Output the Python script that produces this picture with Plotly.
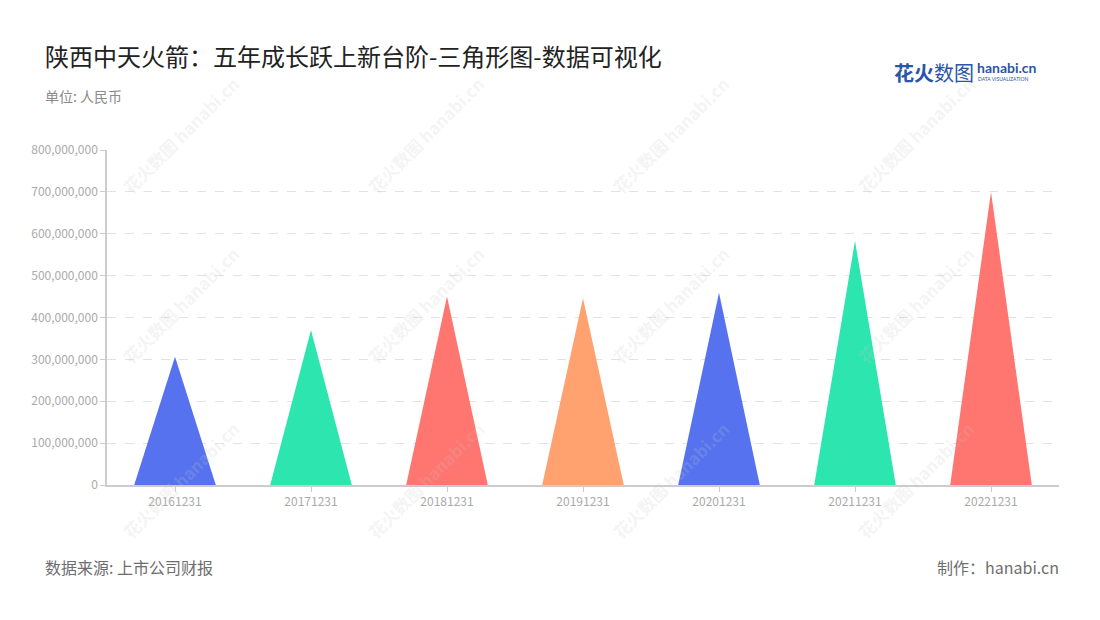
import plotly.graph_objects as go

categories = ["20161231", "20171231", "20181231", "20191231", "20201231", "20211231", "20221231"]
values = [306e6, 370e6, 450e6, 446e6, 459e6, 583e6, 700e6]
colors = ["#5672EE", "#2DE6AF", "#FF7570", "#FFA270", "#5672EE", "#2DE6AF", "#FF7570"]
y_ticks = [0, 100e6, 200e6, 300e6, 400e6, 500e6, 600e6, 700e6, 800e6]
y_tick_labels = ["0", "100,000,000", "200,000,000", "300,000,000", "400,000,000",
                 "500,000,000", "600,000,000", "700,000,000", "800,000,000"]

FONT = "Noto Sans CJK SC"
HALF = 0.3
OFF = 8  # page body margin offset

fig = go.Figure()
for i, (cat, v, c) in enumerate(zip(categories, values, colors)):
    fig.add_trace(go.Scatter(
        x=[i - HALF, i, i + HALF, i - HALF],
        y=[0, v, 0, 0],
        mode="lines", fill="toself", fillcolor=c,
        line=dict(width=0, color=c),
        hoverinfo="text", text=f"{cat}: {v:,.0f}",
        showlegend=False,
    ))

# plot area in screen pixels: left 107, right 1059, top 150, bottom 485
L, R, T, B = 107, 1059, 150, 485
def px(x):
    return (x - L) / (R - L)
def py(y):
    return (B - y) / (B - T)

annotations = []
# watermarks
for cx in [180, 425, 670, 915]:
    for cy in [135, 305, 480]:
        annotations.append(dict(
            x=px(cx), y=py(cy), xref="paper", yref="paper",
            text="<b>花火数图 hanabi.cn</b>", showarrow=False, textangle=-45,
            font=dict(family=FONT, size=17, color="rgba(200,200,200,0.2)"),
            xanchor="center", yanchor="middle",
        ))

annotations += [
    dict(x=px(43), y=py(55), xref="paper", yref="paper", xanchor="left", yanchor="middle",
         text="陕西中天火箭：五年成长跃上新台阶-三角形图-数据可视化", showarrow=False,
         font=dict(family=FONT, size=24, color="#222222")),
    dict(x=px(43), y=py(96), xref="paper", yref="paper", xanchor="left", yanchor="middle",
         text="单位: 人民币", showarrow=False,
         font=dict(family=FONT, size=14, color="#8a8a8a")),
    dict(x=px(43), y=py(567), xref="paper", yref="paper", xanchor="left", yanchor="middle",
         text="数据来源: 上市公司财报", showarrow=False,
         font=dict(family=FONT, size=16, color="#6e6e6e")),
    dict(x=px(1061), y=py(567), xref="paper", yref="paper", xanchor="right", yanchor="middle",
         text="制作：hanabi.cn", showarrow=False,
         font=dict(family=FONT, size=16, color="#6e6e6e")),
    # logo
    dict(x=px(892), y=py(72), xref="paper", yref="paper", xanchor="left", yanchor="middle",
         text="<b>花火</b>数图", showarrow=False,
         font=dict(family=FONT, size=20, color="#2A55A8")),
    dict(x=px(975), y=py(68), xref="paper", yref="paper", xanchor="left", yanchor="middle",
         text="<b>hanabi.cn</b>", showarrow=False,
         font=dict(family="Lato", size=14, color="#2A55A8")),
    dict(x=px(976), y=py(79), xref="paper", yref="paper", xanchor="left", yanchor="middle",
         text="DATA VISUALIZATION", showarrow=False,
         font=dict(family="Lato", size=5, color="#2A55A8")),
]

W, H = 1100, 620
fig.update_layout(
    width=W, height=H,
    margin=dict(l=L - OFF, r=W + OFF - R, t=T - OFF, b=H + OFF - B),
    paper_bgcolor="white", plot_bgcolor="white",
    font=dict(family=FONT),
    annotations=annotations,
    xaxis=dict(
        range=[-0.5, len(categories) - 0.5],
        tickvals=list(range(len(categories))), ticktext=categories,
        showgrid=False, zeroline=False,
        showline=True, linecolor="#cccccc", linewidth=1.5,
        ticks="outside", ticklen=5, tickcolor="#cccccc",
        tickfont=dict(family=FONT, size=12, color="#aaaaaa"),
        fixedrange=True,
    ),
    yaxis=dict(
        range=[0, 800e6],
        tickvals=y_ticks, ticktext=y_tick_labels,
        showgrid=True, gridcolor="#e2e2e2", griddash="dash", gridwidth=1,
        zeroline=False,
        showline=True, linecolor="#cccccc", linewidth=1.5,
        ticks="outside", ticklen=5, tickcolor="#cccccc",
        tickfont=dict(family=FONT, size=12, color="#aaaaaa"),
        fixedrange=True,
    ),
)

fig.write_html("out.html")
